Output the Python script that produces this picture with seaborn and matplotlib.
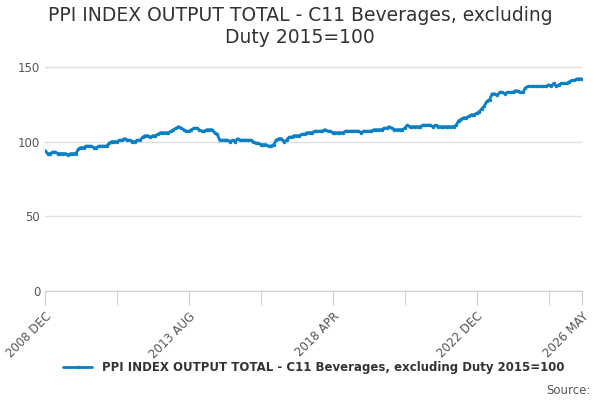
import numpy as np
import pandas as pd
import matplotlib
matplotlib.use('Agg')
import matplotlib.pyplot as plt
import seaborn as sns

# monthly values, Dec 2008 .. May 2026
v2008 = [94]
v2009 = [92, 92, 93, 93, 92, 92, 92, 92, 91, 92, 92, 92]
v2010 = [95, 96, 96, 97, 97, 97, 96, 96, 97, 97, 97, 97]
v2011 = [99, 100, 100, 100, 101, 101, 102, 101, 101, 100, 100, 101]
v2012 = [101, 103, 104, 104, 103, 104, 104, 105, 106, 106, 106, 106]
v2013 = [107, 108, 109, 110, 109, 108, 107, 107, 108, 109, 109, 108]
v2014 = [107, 107, 108, 108, 108, 106, 105, 101, 101, 101, 101, 100]
v2015 = [101, 100, 102, 101, 101, 101, 101, 101, 100, 99, 99, 98]
v2016 = [98, 98, 97, 97, 98, 101, 102, 102, 100, 101, 103, 103]
v2017 = [104, 104, 104, 105, 105, 106, 106, 106, 107, 107, 107, 107]
v2018 = [108, 107, 107, 106, 106, 106, 106, 106, 107, 107, 107, 107]
v2019 = [107, 107, 106, 107, 107, 107, 107, 108, 108, 108, 108, 109]
v2020 = [109, 110, 109, 108, 108, 108, 108, 109, 111, 110, 110, 110]
v2021 = [110, 110, 111, 111, 111, 111, 110, 111, 110, 110, 110, 110]
v2022 = [110, 110, 110, 111, 114, 115, 116, 116, 117, 118, 118, 119]
v2023 = [120, 122, 124, 127, 128, 132, 132, 131, 133, 133, 132, 133]
v2024 = [133, 133, 134, 134, 133, 133, 136, 137, 137, 137, 137, 137]
v2025 = [137, 137, 137, 138, 137, 139, 137, 138, 139, 139, 139, 140]
v2026 = [141, 141, 142, 142, 142]

values = (v2008 + v2009 + v2010 + v2011 + v2012 + v2013 + v2014 + v2015 + v2016
          + v2017 + v2018 + v2019 + v2020 + v2021 + v2022 + v2023 + v2024 + v2025 + v2026)
dates = pd.date_range('2008-12-01', periods=len(values), freq='MS')
df = pd.DataFrame({'idx': np.arange(len(values)), 'value': values})

label_pos = [0, 56, 112, 168, len(values) - 1]
tick_labels = [dates[i].strftime('%Y %b').upper() for i in label_pos]
minor_pos = [28, 84, 140, 196]

series_name = 'PPI INDEX OUTPUT TOTAL - C11 Beverages, excluding Duty 2015=100'
color = '#0a7fc4'

sns.set_style('white')
fig, ax = plt.subplots(figsize=(6, 4), dpi=100)
sns.lineplot(data=df, x='idx', y='value', ax=ax, color=color, lw=2,
             marker='o', markersize=2.5, markeredgewidth=0, label=series_name)

ax.set_xlim(0, len(values) - 1)
ax.set_ylim(0, 160)
ax.set_yticks([0, 50, 100, 150])
ax.yaxis.grid(True, color='#e0e0e0', lw=1)
ax.set_xticks(label_pos)
ax.set_xticklabels(tick_labels, rotation=45, ha='right', rotation_mode='anchor',
                   fontsize=8.5, color='#555555')
ax.set_xticks(minor_pos, minor=True)
ax.tick_params(axis='x', which='both', length=10, color='#cccccc', direction='out', bottom=True)
ax.tick_params(axis='y', labelsize=8.5, labelcolor='#555555', length=0)
ax.set_xlabel('')
ax.set_ylabel('')
for s in ['top', 'right', 'left']:
    ax.spines[s].set_visible(False)
ax.spines['bottom'].set_color('#cccccc')

fig.text(0.5, 0.985, 'PPI INDEX OUTPUT TOTAL - C11 Beverages, excluding\nDuty 2015=100',
         ha='center', va='top', fontsize=13.5, color='#333333')
ax.legend(loc='upper center', bbox_to_anchor=(0.5, -0.25), frameon=False,
          prop={'size': 8.5, 'weight': 'bold'}, handlelength=2.5, labelcolor='#333333')
fig.text(0.985, 0.015, 'Source:', ha='right', fontsize=8.5, color='#555555')
fig.subplots_adjust(left=0.075, right=0.97, top=0.87, bottom=0.2725)
fig.savefig('out.png')
